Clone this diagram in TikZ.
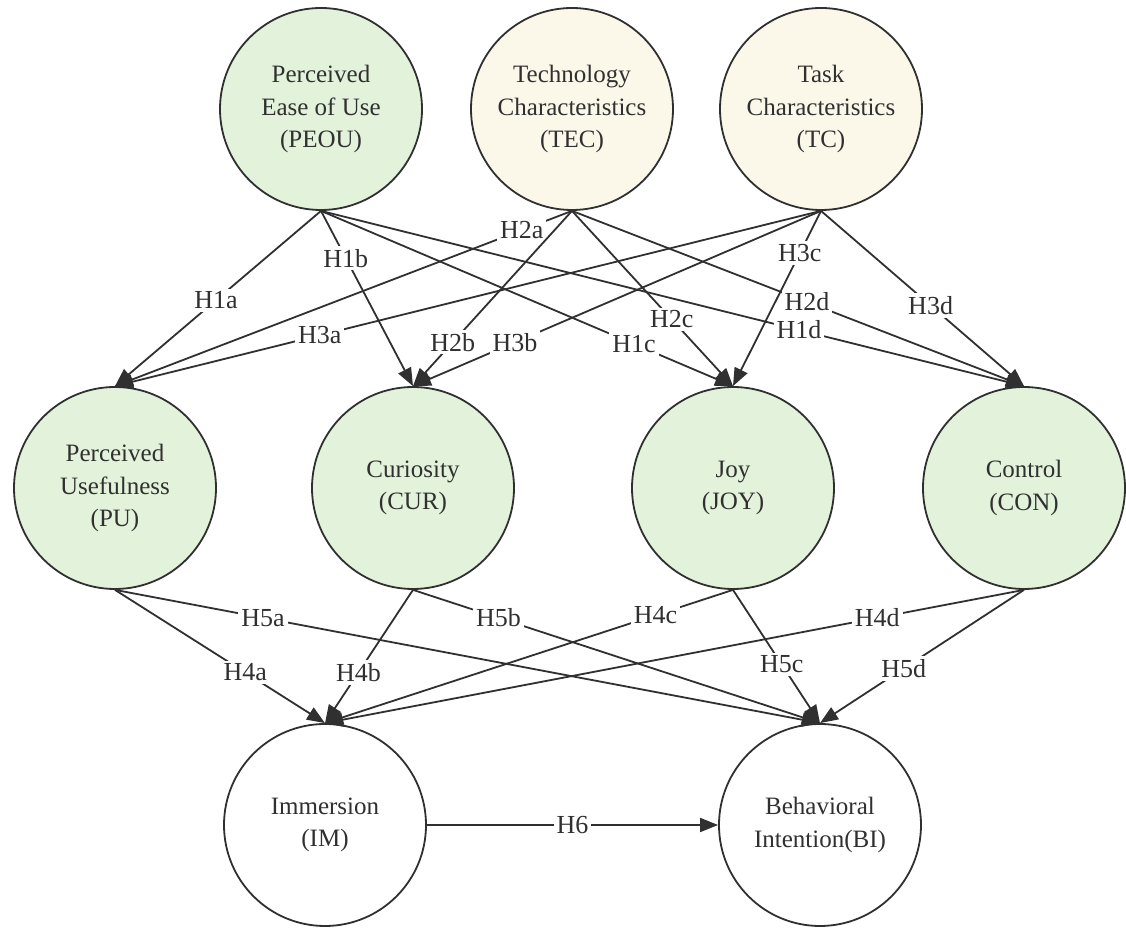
\documentclass[tikz,border=0pt]{standalone}
\usepackage{fontspec}
\setmainfont{Liberation Serif}
\usepackage{tikz}
\usepackage{xcolor}
\usetikzlibrary{arrows.meta}

\definecolor{constgreen}{HTML}{E3F2DA}
\definecolor{constbeige}{HTML}{FBF8E9}
\definecolor{inkgray}{HTML}{303030}

\tikzset{
    construct/.style={circle, draw=inkgray, line width=0.9pt, minimum size=101pt,
        inner sep=0pt, align=center, text=inkgray,
        font=\fontsize{12.5}{16.25}\selectfont},
    path/.style={draw=inkgray, line width=0.9pt, -{Triangle[length=9pt,width=7pt]}},
    hyp/.style={fill=white, inner sep=1.5pt, text=inkgray,
        font=\fontsize{13}{15}\selectfont}
}

\begin{document}
\begin{tikzpicture}[x=0.5pt, y=-0.5pt]
    \useasboundingbox (0,0) rectangle (1126,929);

    % Antecedents
    \node[construct, fill=constgreen] (peou) at (321,109) {Perceived\\Ease of Use\\(PEOU)};
    \node[construct, fill=constbeige] (tec) at (572,109) {Technology\\Characteristics\\(TEC)};
    \node[construct, fill=constbeige] (tc) at (821,109) {Task\\Characteristics\\(TC)};

    % Mediators
    \node[construct, fill=constgreen] (pu) at (115,488) {Perceived\\Usefulness\\(PU)};
    \node[construct, fill=constgreen] (cur) at (413,488) {Curiosity\\(CUR)};
    \node[construct, fill=constgreen] (joy) at (733,488) {Joy\\(JOY)};
    \node[construct, fill=constgreen] (con) at (1024,488) {Control\\(CON)};

    % Outcomes
    \node[construct, fill=white] (im) at (325,825) {Immersion\\(IM)};
    \node[construct, fill=white] (bi) at (820,825) {Behavioral\\Intention(BI)};

    % H1
    \draw[path] (peou.south) -- node[hyp, pos=0.51] {H1a} (pu.north);
    \draw[path] (peou.south) -- node[hyp, pos=0.27] {H1b} (cur.north);
    \draw[path] (peou.south) -- node[hyp, pos=0.76] {H1c} (joy.north);
    \draw[path] (peou.south) -- node[hyp, pos=0.68] {H1d} (con.north);

    % H2
    \draw[path] (tec.south) -- node[hyp, pos=0.11] {H2a} (pu.north);
    \draw[path] (tec.south) -- node[hyp, pos=0.75] {H2b} (cur.north);
    \draw[path] (tec.south) -- node[hyp, pos=0.62] {H2c} (joy.north);
    \draw[path] (tec.south) -- node[hyp, pos=0.52] {H2d} (con.north);

    % H3
    \draw[path] (tc.south) -- node[hyp, pos=0.71] {H3a} (pu.north);
    \draw[path] (tc.south) -- node[hyp, pos=0.75] {H3b} (cur.north);
    \draw[path] (tc.south) -- node[hyp, pos=0.24] {H3c} (joy.north);
    \draw[path] (tc.south) -- node[hyp, pos=0.54] {H3d} (con.north);

    % H4 and H5
    \draw[path] (pu.south) -- node[hyp, pos=0.62] {H4a} (im.north);
    \draw[path] (cur.south) -- node[hyp, pos=0.62] {H4b} (im.north);
    \draw[path] (joy.south) -- node[hyp, pos=0.19] {H4c} (im.north);
    \draw[path] (con.south) -- node[hyp, pos=0.21] {H4d} (im.north);
    \draw[path] (pu.south) -- node[hyp, pos=0.21] {H5a} (bi.north);
    \draw[path] (cur.south) -- node[hyp, pos=0.21] {H5b} (bi.north);
    \draw[path] (joy.south) -- node[hyp, pos=0.56] {H5c} (bi.north);
    \draw[path] (con.south) -- node[hyp, pos=0.59] {H5d} (bi.north);

    % H6
    \draw[path] (im.east) -- node[hyp] {H6} (bi.west);
\end{tikzpicture}
\end{document}
